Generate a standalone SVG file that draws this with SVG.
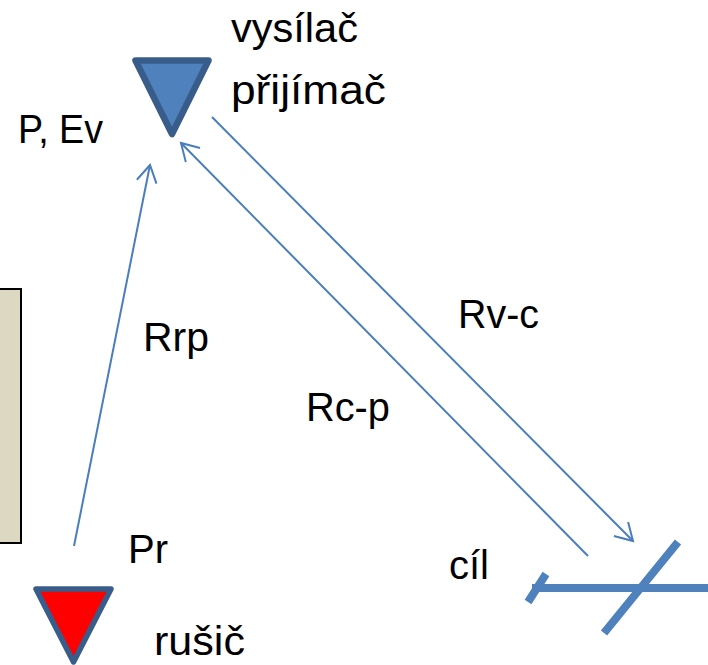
<svg xmlns="http://www.w3.org/2000/svg" width="708" height="665" viewBox="0 0 708 665">
<style>
text{font-family:"Liberation Sans",Arial,sans-serif;font-size:41px;fill:#000}
.c{fill:none;stroke:#4a7ebb;stroke-width:2;marker-end:url(#a)}
.t{fill:none;stroke:#4f81bd;stroke-width:8}
.m{stroke:#385d8a;stroke-linejoin:round}
</style>
<defs><marker id="a" markerUnits="userSpaceOnUse" markerWidth="24" markerHeight="24" refX="20" refY="12" orient="auto"><path d="M3 2L20 12L3 22" fill="none" stroke="#4a7ebb" stroke-width="2"/></marker></defs>
<rect width="708" height="665" fill="#fff"/>
<g id="box"><rect x="-10" y="289" width="31" height="254" fill="#ddd8c2" stroke="#000" stroke-width="2"/></g>
<g id="connectors">
<path class="c" d="M74 546L150 165"/>
<path class="c" d="M588 556L181 143"/>
<path class="c" d="M212 117L633 541"/>
</g>
<g id="vysilac"><path class="m" stroke-width="6.500" fill="#4f81bd" d="M135.500 60.500H208.500L172 134Z"/><text x="231" y="42" textLength="127" lengthAdjust="spacingAndGlyphs">vysílač</text><text x="231" y="104" textLength="155" lengthAdjust="spacingAndGlyphs">přijímač</text></g>
<g id="rusic"><path class="m" stroke-width="5.500" fill="#f00" d="M36 589H111L73.500 662Z"/><text x="154" y="655" textLength="91" lengthAdjust="spacingAndGlyphs">rušič</text></g>
<g id="cil"><path class="t" d="M532 588H708M546 574L528 602M678 542L604 633"/><text x="449" y="579" textLength="40" lengthAdjust="spacingAndGlyphs">cíl</text></g>
<g id="labels">
<text x="18" y="143" textLength="85" lengthAdjust="spacingAndGlyphs">P, Ev</text>
<text x="143" y="351" textLength="66" lengthAdjust="spacingAndGlyphs">Rrp</text>
<text x="458" y="328" textLength="81" lengthAdjust="spacingAndGlyphs">Rv-c</text>
<text x="306" y="421" textLength="84" lengthAdjust="spacingAndGlyphs">Rc-p</text>
<text x="128" y="563" textLength="40" lengthAdjust="spacingAndGlyphs">Pr</text>
</g>
</svg>
